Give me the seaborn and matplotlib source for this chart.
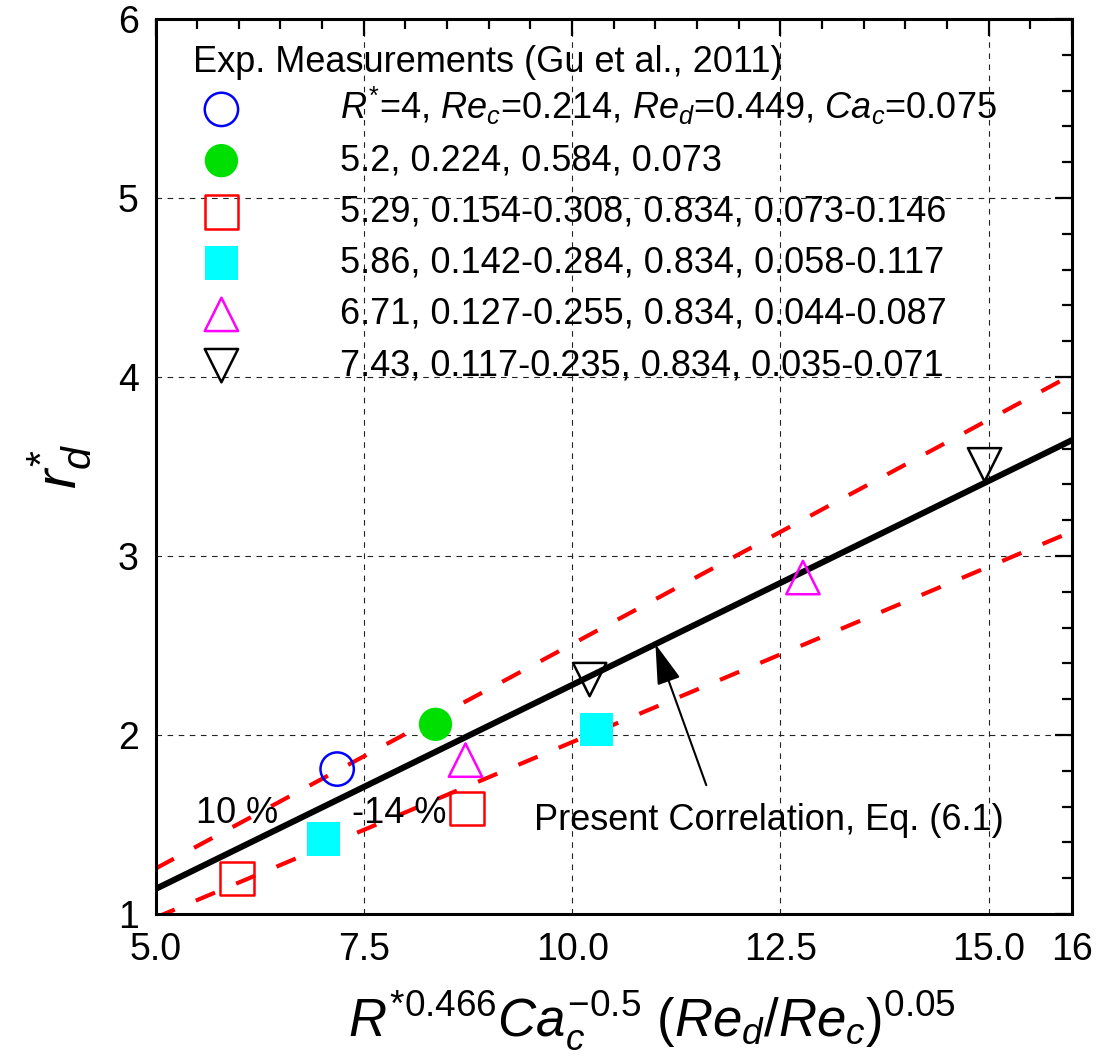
import numpy as np
import pandas as pd
import matplotlib
matplotlib.use('Agg')
import matplotlib.pyplot as plt
from matplotlib.ticker import MultipleLocator
import seaborn as sns

# Експериментальні точки (Gu et al., 2011)
circle_x = [7.18]
circle_y = [1.81]
green_x = [8.36]
green_y = [2.06]
sq_open_x = [5.98, 8.74]
sq_open_y = [1.20, 1.59]
sq_cyan_x = [7.02, 10.29]
sq_cyan_y = [1.42, 2.03]
tri_up_x = [8.72, 12.77]
tri_up_y = [1.86, 2.88]
tri_down_x = [10.21, 14.95]
tri_down_y = [2.31, 3.51]

# Кореляція та межі +10 % / -14 %
corr_x = [5.0, 16.0]
corr_y = [1.14, 3.648]
upper_y = [1.254, 4.013]
lower_y = [0.98, 3.137]

labels = [
    r'$R^{*}$=4, $Re_c$=0.214, $Re_d$=0.449, $Ca_c$=0.075',
    '5.2, 0.224, 0.584, 0.073',
    '5.29, 0.154-0.308, 0.834, 0.073-0.146',
    '5.86, 0.142-0.284, 0.834, 0.058-0.117',
    '6.71, 0.127-0.255, 0.834, 0.044-0.087',
    '7.43, 0.117-0.235, 0.834, 0.035-0.071',
]
xticks = [5.0, 7.5, 10.0, 12.5, 15.0, 16.0]
xticklabels = ['5.0', '7.5', '10.0', '12.5', '15.0', '16']
yticks = [1, 2, 3, 4, 5, 6]

sns.set_style('white')
plt.rcParams['font.family'] = ['Liberation Sans', 'DejaVu Sans']
plt.rcParams['mathtext.fontset'] = 'custom'
plt.rcParams['mathtext.rm'] = 'Liberation Sans'
plt.rcParams['mathtext.it'] = 'Liberation Sans:italic'
plt.rcParams['mathtext.bf'] = 'Liberation Sans:bold'
for key in ['text.color', 'axes.labelcolor', 'xtick.color', 'ytick.color']:
    plt.rcParams[key] = 'black'

fig = plt.figure(figsize=(10.99, 10.61), dpi=100)
ax = fig.add_axes([0.1415, 0.1385, 0.834, 0.8435])

# лінії
sns.lineplot(x=corr_x, y=upper_y, color='#ff0000', lw=3, linestyle=(0, (5, 5.5)), ax=ax)
sns.lineplot(x=corr_x, y=lower_y, color='#ff0000', lw=3, linestyle=(0, (5, 5.5)), ax=ax)
sns.lineplot(x=corr_x, y=corr_y, color='black', lw=4.4, ax=ax)

ms = 24
sns.scatterplot(x=circle_x, y=circle_y, marker='o', s=ms**2, facecolors='none',
                edgecolors='#0000ff', linewidth=1.8, ax=ax, label=labels[0], zorder=5)
sns.scatterplot(x=green_x, y=green_y, marker='o', s=ms**2, color='#00e000',
                edgecolor='none', ax=ax, label=labels[1], zorder=5)
sns.scatterplot(x=sq_open_x, y=sq_open_y, marker='s', s=ms**2, facecolors='none',
                edgecolors='#ff0000', linewidth=1.8, ax=ax, label=labels[2], zorder=5)
sns.scatterplot(x=sq_cyan_x, y=sq_cyan_y, marker='s', s=ms**2, color='#00ffff',
                edgecolor='none', ax=ax, label=labels[3], zorder=5)
sns.scatterplot(x=tri_up_x, y=tri_up_y, marker='^', s=ms**2, facecolors='none',
                edgecolors='#ff00ff', linewidth=1.8, ax=ax, label=labels[4], zorder=5)
sns.scatterplot(x=tri_down_x, y=tri_down_y, marker='v', s=ms**2, facecolors='none',
                edgecolors='black', linewidth=1.8, ax=ax, label=labels[5], zorder=5)

ax.set_xlim(5, 16)
ax.set_ylim(1, 6)
ax.set_xticks(xticks)
ax.set_xticklabels(xticklabels)
ax.set_yticks(yticks)
ax.xaxis.set_minor_locator(MultipleLocator(0.5))
ax.yaxis.set_minor_locator(MultipleLocator(0.2))
ax.tick_params(which='both', direction='in', top=True, right=True, colors='black')
ax.tick_params(which='major', length=12, width=1.6, labelsize=27)
ax.tick_params(which='minor', length=7, width=1.6)
ax.tick_params(axis='x', pad=13)
ax.tick_params(axis='y', pad=12)
for sp in ax.spines.values():
    sp.set_linewidth(2.2)
    sp.set_color('black')

ax.grid(True, which='major', color='#222222', lw=0.8, linestyle=(0, (5, 5)))

ax.set_xlabel(r'$R^{*0.466}Ca_c^{-0.5}\ (Re_d/Re_c)^{0.05}$', fontsize=38)
ax.xaxis.set_label_coords(0.542, -0.083)
ax.set_ylabel(r'$r_d^{*}$', fontsize=42, labelpad=18)

ax.text(5.48, 1.56, '10 %', fontsize=26, ha='left', va='center')
ax.text(7.36, 1.56, '-14 %', fontsize=26, ha='left', va='center')
ax.text(9.54, 1.52, 'Present Correlation, Eq. (6.1)', fontsize=26, ha='left', va='center')
ax.annotate('', xy=(11.0, 2.508), xytext=(11.61, 1.72),
            arrowprops=dict(arrowstyle='-|>,head_length=0.5,head_width=0.15',
                            mutation_scale=50, lw=1.5, color='black',
                            shrinkA=0, shrinkB=0))

# заголовок легенди окремим текстом
ax.text(0.0414, 0.952, 'Exp. Measurements (Gu et al., 2011)', fontsize=26,
        ha='left', va='center', transform=ax.transAxes)
leg = ax.legend(loc='upper left', bbox_to_anchor=(0.001, 0.959), frameon=False,
                fontsize=26, handlelength=2.0, handletextpad=2.29,
                labelspacing=0.45, borderpad=0.3)

fig.savefig('out.png', dpi=100)
